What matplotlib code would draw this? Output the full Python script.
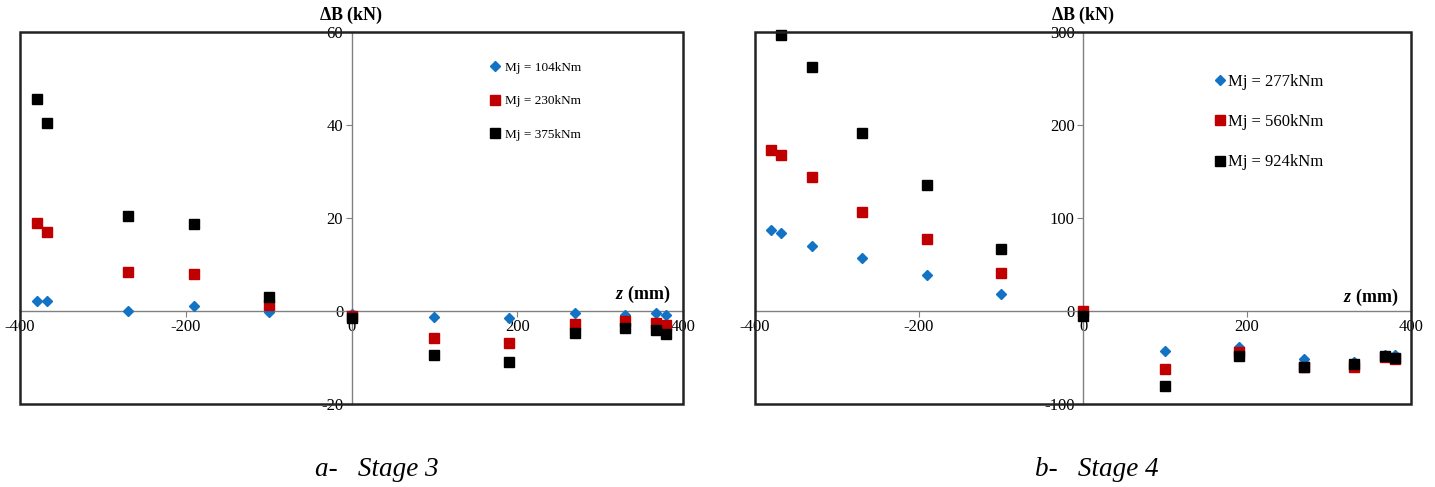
import numpy as np
import matplotlib
matplotlib.use('Agg')
import matplotlib.pyplot as plt
from matplotlib.patches import Rectangle

plt.rcParams['font.family'] = ['Liberation Serif', 'DejaVu Serif']
plt.rcParams['mathtext.fontset'] = 'custom'
plt.rcParams['mathtext.it'] = 'Liberation Serif:italic:bold'
plt.rcParams['mathtext.rm'] = 'Liberation Serif:bold'
plt.rcParams['axes.unicode_minus'] = False

# stage 3 data
z3 = [-380, -368, -270, -190, -100, 0, 100, 190, 270, 330, 368, 380]
s3_104 = [2.1, 2.1, 0.1, 1.1, -0.2, -0.7, -1.2, -1.6, -0.5, -0.9, -0.5, -0.9]
s3_230 = [19.0, 17.0, 8.4, 7.9, 1.2, -1.0, -5.9, -6.8, -2.9, -2.1, -2.5, -3.1]
s3_375 = [45.6, 40.5, 20.5, 18.7, 3.1, -1.4, -9.5, -10.9, -4.7, -3.6, -4.1, -5.0]
lab3 = ['Mj = 104kNm', 'Mj = 230kNm', 'Mj = 375kNm']

# stage 4 data
z4 = [-380, -368, -330, -270, -190, -100, 0, 100, 190, 270, 330, 368, 380]
s4_277 = [87.1, 83.6, 69.6, 56.8, 38.2, 18.6, 0.0, -43.2, -38.6, -52.1, -54.6, -47.5, -47.5]
s4_560 = [173.6, 168.2, 143.9, 106.1, 77.5, 41.1, 0.0, -62.9, -44.6, -60.0, -60.0, -49.3, -51.8]
s4_924 = [np.nan, 296.4, 262.5, 191.4, 135.0, 66.8, -5.4, -81.1, -48.2, -60.7, -57.1, -48.2, -50.4]
lab4 = ['Mj = 277kNm', 'Mj = 560kNm', 'Mj = 924kNm']

cols = ['#1272C4', '#C00000', '#000000']
mks = ['D', 's', 's']
msz = [5, 7.5, 7.5]

fig = plt.figure(figsize=(14.35, 4.87), dpi=100)
ax1 = fig.add_axes([20/1435, 83/487, 663/1435, 372/487])
ax2 = fig.add_axes([755/1435, 83/487, 656/1435, 372/487])


def setup(ax, z, series, labels, ylim, yticks, legfs, legpos, legsp, legpad):
  for s, c, m, ms, l in zip(series, cols, mks, msz, labels):
    ax.plot(z, s, ls='none', marker=m, color=c, ms=ms, label=l,
            clip_on=False, zorder=3)
  ax.set_xlim(-400, 400)
  ax.set_ylim(*ylim)
  ax.set_xticks([-400, -200, 0, 200, 400])
  ax.set_yticks(yticks)
  ax.spines['left'].set_position(('data', 0))
  ax.spines['bottom'].set_position(('data', 0))
  for sp in ['left', 'bottom']:
    ax.spines[sp].set_color('#808080')
    ax.spines[sp].set_linewidth(1)
  ax.spines['top'].set_visible(False)
  ax.spines['right'].set_visible(False)
  ax.tick_params(direction='out', length=4, color='#808080',
                 labelsize=12, pad=2)
  ax.add_patch(Rectangle((0, 0), 1, 1, transform=ax.transAxes, fill=False,
                         lw=1.8, ec='#222222', clip_on=False, zorder=4))
  ax.legend(loc='upper left', bbox_to_anchor=legpos, frameon=False,
            fontsize=legfs, handlelength=0.5, handletextpad=legpad,
            labelspacing=legsp, borderpad=0, borderaxespad=0)


setup(ax1, z3, [s3_104, s3_230, s3_375], lab3, (-20, 60), [-20, 0, 20, 40, 60],
      9.5, (0.712, 0.92), 1.6, 0.45)
setup(ax2, z4, [s4_277, s4_560, s4_924], lab4, (-100, 300), [-100, 0, 100, 200, 300],
      12, (0.702, 0.887), 1.45, 0.25)

for ax in (ax1, ax2):
  ax.text(0, 1.045, r'$\Delta$B (kN)', transform=ax.get_xaxis_transform(),
          ha='center', va='center', fontsize=13, fontweight='bold')
ax1.text(385, 1.2, r'$z$ (mm)', ha='right', va='bottom', fontsize=13,
         fontweight='bold')
ax2.text(385, 3.5, r'$z$ (mm)', ha='right', va='bottom', fontsize=13,
         fontweight='bold')

fig.text(315/1435, 1 - 470/487, 'a-   Stage 3', fontsize=19.5, style='italic',
         va='center', ha='left')
fig.text(1035/1435, 1 - 470/487, 'b-   Stage 4', fontsize=19.5, style='italic',
         va='center', ha='left')

fig.savefig('out.png', dpi=100)
